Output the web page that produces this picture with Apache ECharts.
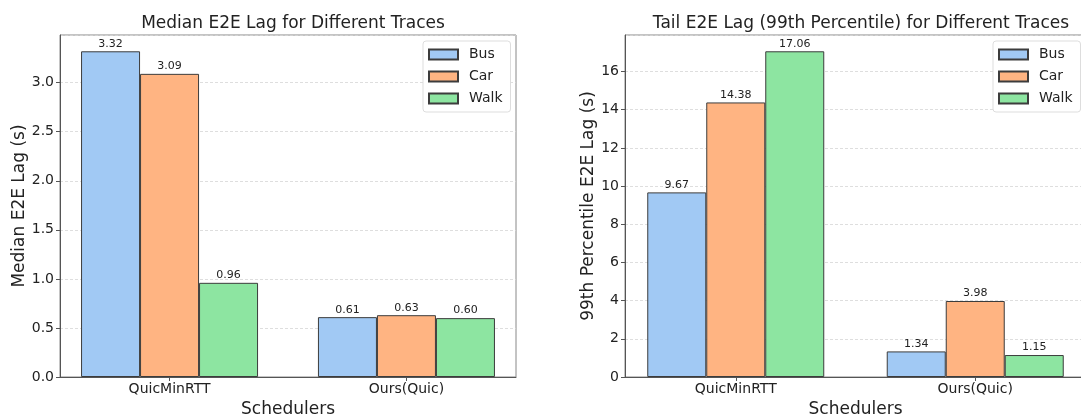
<!DOCTYPE html>
<html>
<head>
<meta charset="utf-8">
<script src="https://cdn.jsdelivr.net/npm/echarts@6/dist/echarts.min.js"></script>
<style>
html, body { margin: 0; padding: 0; background: #fff; }
#main { width: 1081px; height: 414px; }
</style>
</head>
<body>
<div id="main"></div>
<script>
// data
var schedulers = ['QuicMinRTT', 'Ours(Quic)'];
var traces = ['Bus', 'Car', 'Walk'];
var medianBus = [3.32, 0.61];
var medianCar = [3.09, 0.63];
var medianWalk = [0.96, 0.60];
var tailBus = [9.67, 1.34];
var tailCar = [14.38, 3.98];
var tailWalk = [17.06, 1.15];
var colors = ['#a1c9f4', '#ffb482', '#8de5a1'];

var chart = echarts.init(document.getElementById('main'));
var font = 'DejaVu Sans';

function pairs(arr) {
    return arr.map(function (v, i) { return [i, v]; });
}

function xAxisFor(gridIndex) {
    return {
        type: 'value',
        gridIndex: gridIndex,
        min: -0.4625,
        max: 1.4625,
        name: 'Schedulers',
        nameLocation: 'middle',
        nameGap: 20,
        nameTextStyle: { fontFamily: font, fontSize: 17, color: '#222' },
        axisLine: { show: true, onZero: false, lineStyle: { color: '#555', width: 1 } },
        axisTick: { show: true, customValues: [0, 1], length: 4, lineStyle: { color: '#555' } },
        axisLabel: {
            customValues: [0, 1],
            fontFamily: font, fontSize: 14, color: '#222', margin: 5,
            formatter: function (v) { return schedulers[Math.round(v)]; }
        },
        splitLine: { show: false }
    };
}

function yAxisFor(gridIndex, max, interval, name, nameGap, digits) {
    return {
        type: 'value',
        gridIndex: gridIndex,
        min: 0,
        max: max,
        interval: interval,
        name: name,
        nameLocation: 'middle',
        nameGap: nameGap,
        nameTextStyle: { fontFamily: font, fontSize: 17, color: '#222' },
        axisLine: { show: true, onZero: false, lineStyle: { color: '#555', width: 1 } },
        axisTick: { show: true, length: 4, lineStyle: { color: '#555' } },
        axisLabel: {
            fontFamily: font, fontSize: 14, color: '#222', margin: 6,
            showMaxLabel: false,
            formatter: function (v) { return v.toFixed(digits); }
        },
        splitLine: { show: true, lineStyle: { color: '#d5d5d5', type: [3, 2], width: 0.8 } }
    };
}

function barSeries(name, values, idx, axisIdx) {
    return {
        name: name,
        type: 'bar',
        xAxisIndex: axisIdx,
        yAxisIndex: axisIdx,
        data: pairs(values),
        barWidth: 59,
        barGap: '0%',
        itemStyle: { color: colors[idx], borderColor: '#3c3c3c', borderWidth: 1 },
        label: {
            show: true,
            position: 'top',
            distance: 2,
            fontFamily: font,
            fontSize: 11,
            color: '#222',
            formatter: function (p) { return p.value[1].toFixed(2); }
        }
    };
}

function legendFor(left) {
    return {
        data: traces,
        orient: 'vertical',
        left: left,
        top: 41,
        icon: 'rect',
        itemWidth: 29,
        itemHeight: 10,
        itemGap: 7,
        padding: [6, 8, 6, 5],
        backgroundColor: '#fff',
        borderColor: '#ddd',
        borderWidth: 1,
        borderRadius: 3,
        textStyle: { fontFamily: font, fontSize: 14, color: '#222', lineHeight: 15, padding: [0, 0, 0, 6] }
    };
}

var option = {
    animation: false,
    title: [
        {
            text: 'Median E2E Lag for Different Traces',
            left: 288, top: 10, textAlign: 'center',
            textStyle: { fontFamily: font, fontSize: 17, fontWeight: 'normal', color: '#222' }
        },
        {
            text: 'Tail E2E Lag (99th Percentile) for Different Traces',
            left: 856, top: 10, textAlign: 'center',
            textStyle: { fontFamily: font, fontSize: 17, fontWeight: 'normal', color: '#222' }
        }
    ],
    legend: [legendFor(423), legendFor(993)],
    grid: [
        { left: 60, top: 35, width: 456, height: 342, outerBoundsMode: 'none', containLabel: false, show: true, borderColor: '#888', borderWidth: 1, backgroundColor: 'transparent' },
        { left: 625, top: 35, width: 461, height: 342, outerBoundsMode: 'none', containLabel: false, show: true, borderColor: '#888', borderWidth: 1, backgroundColor: 'transparent' }
    ],
    xAxis: [xAxisFor(0), xAxisFor(1)],
    yAxis: [
        yAxisFor(0, 3.486, 0.5, 'Median E2E Lag (s)', 32, 1),
        yAxisFor(1, 17.913, 2, '99th Percentile E2E Lag (s)', 28, 0)
    ],
    series: [
        barSeries('Bus', medianBus, 0, 0),
        barSeries('Car', medianCar, 1, 0),
        barSeries('Walk', medianWalk, 2, 0),
        barSeries('Bus', tailBus, 0, 1),
        barSeries('Car', tailCar, 1, 1),
        barSeries('Walk', tailWalk, 2, 1)
    ]
};

chart.setOption(option);
</script>
</body>
</html>
